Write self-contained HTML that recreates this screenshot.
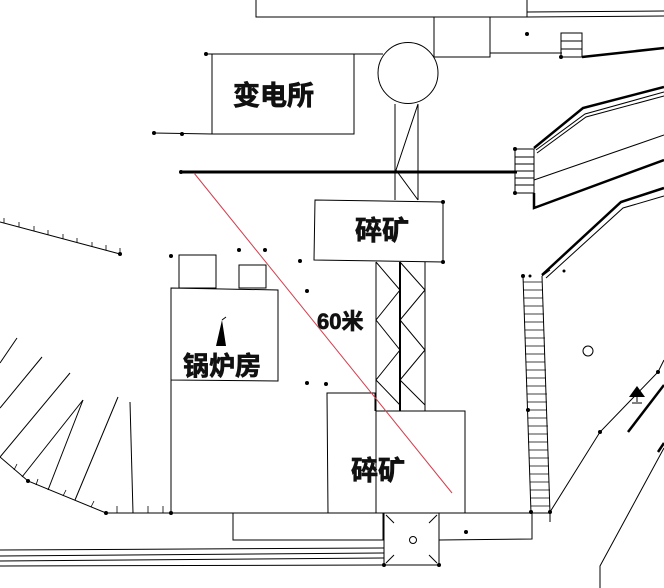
<!DOCTYPE html>
<html><head><meta charset="utf-8"><style>
html,body{margin:0;padding:0;background:#fff;}
svg{display:block}
text{font-family:"Liberation Sans","Noto Sans CJK SC",sans-serif;font-weight:bold;fill:#111;stroke:#111;stroke-width:0.7}
</style></head><body>
<svg width="664" height="588" viewBox="0 0 664 588" xmlns="http://www.w3.org/2000/svg">
<g stroke="#000" stroke-width="1" fill="none">
<polyline points="256,0 256,17 527,17 527,0"/>
<line x1="527" y1="12" x2="664" y2="11"/>
<line x1="527" y1="17" x2="664" y2="16"/>
<rect x="434" y="17" width="56" height="40"/>
<line x1="490" y1="53" x2="562" y2="53"/>
<rect x="561" y="33" width="21" height="24"/>
<line x1="561" y1="41" x2="582" y2="41"/><line x1="561" y1="49" x2="582" y2="49"/>
<polyline points="582,57 664,48" stroke-width="2.5"/>
<rect x="212" y="54" width="142" height="80"/>
<line x1="206" y1="54" x2="383" y2="54"/>
<line x1="154" y1="133" x2="212" y2="134"/>
<ellipse cx="408" cy="73" rx="30" ry="30.5"/>
<line x1="395" y1="104" x2="395" y2="200"/>
<line x1="418" y1="104" x2="418" y2="200"/>
<polyline points="418,104 396,170 418,200"/>
<line x1="181" y1="172" x2="517" y2="172" stroke-width="3"/>
<rect x="515" y="149" width="19" height="44"/>
<line x1="515" y1="157" x2="534" y2="157"/><line x1="515" y1="164" x2="534" y2="164"/><line x1="515" y1="171" x2="534" y2="171"/><line x1="515" y1="178" x2="534" y2="178"/><line x1="515" y1="185" x2="534" y2="185"/>
<polyline points="534,148 583,108 664,87" stroke-width="2.5"/>
<polyline points="536,150 585,114 664,92"/>
<polyline points="537,153 586,117 664,96"/>
<line x1="534" y1="180" x2="664" y2="135"/>
<polyline points="534,193 534,208 664,160" stroke-width="2.5"/>
<polyline points="542,275 621,202 664,188" stroke-width="2.5"/>
<polyline points="546,278 623,208 664,196"/>
<polygon points="315,200 443,202 443,262 314,260"/>
<line x1="376" y1="262" x2="376" y2="411"/>
<line x1="400" y1="262" x2="400" y2="411" stroke-width="2"/>
<line x1="425" y1="262" x2="425" y2="411"/>
<polyline points="376,262 400,290 376,320 400,350 376,380 400,405"/>
<polyline points="400,262 425,290 400,320 425,350 400,380 425,405"/>
<rect x="179" y="255" width="37" height="33"/>
<rect x="239" y="265" width="27" height="23"/>
<polygon points="171,288 278,290 278,381 171,380"/>
<line x1="171" y1="380" x2="171" y2="513"/>
<polyline points="328,513 327,393 375,393 375,411"/>
<polyline points="376,411 465,411 465,513"/>
<line x1="376" y1="411" x2="376" y2="513"/>
<line x1="105" y1="513" x2="550" y2="513"/>
<rect x="233" y="513" width="150" height="27"/>
<rect x="384" y="513" width="55" height="52"/>
<line x1="386" y1="515" x2="394" y2="523"/><line x1="437" y1="515" x2="429" y2="523"/>
<line x1="386" y1="563" x2="394" y2="555"/><line x1="437" y1="563" x2="429" y2="555"/>
<circle cx="413" cy="540" r="3.5"/>
<polyline points="439,540 532,539 532,513"/>
<line x1="0" y1="550" x2="384" y2="548"/>
<line x1="0" y1="556" x2="384" y2="553"/>
<line x1="0" y1="561" x2="384" y2="558"/>
<line x1="0" y1="566" x2="384" y2="565"/>
<polyline points="523,276 531,513"/>
<polyline points="542,276 550,513"/>
<g stroke-width="0.8">
<line x1="523" y1="282" x2="542" y2="282"/><line x1="523" y1="290" x2="543" y2="290"/><line x1="524" y1="298" x2="543" y2="298"/><line x1="524" y1="306" x2="543" y2="306"/><line x1="524" y1="314" x2="544" y2="314"/><line x1="524" y1="322" x2="544" y2="322"/><line x1="525" y1="330" x2="544" y2="330"/><line x1="525" y1="338" x2="545" y2="338"/><line x1="525" y1="346" x2="545" y2="346"/><line x1="525" y1="354" x2="545" y2="354"/><line x1="526" y1="362" x2="545" y2="362"/><line x1="526" y1="370" x2="546" y2="370"/><line x1="526" y1="378" x2="546" y2="378"/><line x1="526" y1="386" x2="546" y2="386"/><line x1="527" y1="394" x2="547" y2="394"/><line x1="527" y1="402" x2="547" y2="402"/><line x1="527" y1="410" x2="547" y2="410"/><line x1="528" y1="418" x2="547" y2="418"/><line x1="528" y1="426" x2="548" y2="426"/><line x1="528" y1="434" x2="548" y2="434"/><line x1="528" y1="442" x2="548" y2="442"/><line x1="529" y1="450" x2="548" y2="450"/><line x1="529" y1="458" x2="549" y2="458"/><line x1="529" y1="466" x2="549" y2="466"/><line x1="530" y1="474" x2="549" y2="474"/><line x1="530" y1="482" x2="549" y2="482"/><line x1="530" y1="490" x2="550" y2="490"/><line x1="530" y1="498" x2="550" y2="498"/><line x1="531" y1="506" x2="550" y2="506"/>
</g>
<polyline points="542,276 550,270"/>
<circle cx="588" cy="351" r="5"/>
<polyline points="550,512 600,432 658,372 664,360"/>
<line x1="550" y1="512" x2="550" y2="522"/>
<line x1="628" y1="432" x2="664" y2="385" stroke-width="2.5"/>
<line x1="658" y1="452" x2="664" y2="443" stroke-width="2.5"/>
<polyline points="600,588 600,566 664,448"/>
<line x1="637" y1="402" x2="637" y2="397"/>
<line x1="632" y1="403" x2="642" y2="403"/>
<line x1="0" y1="222" x2="120" y2="254"/>
<g stroke-width="0.8">
<line x1="4" y1="223" x2="4" y2="218"/><line x1="19" y1="227" x2="19" y2="222"/><line x1="34" y1="231" x2="34" y2="226"/><line x1="48" y1="235" x2="48" y2="230"/><line x1="63" y1="239" x2="63" y2="234"/><line x1="77" y1="243" x2="77" y2="238"/><line x1="92" y1="247" x2="92" y2="242"/><line x1="106" y1="250" x2="106" y2="245"/><line x1="120" y1="254" x2="120" y2="248"/>
</g>
<polyline points="0,457 28,481 106,513 171,513"/>
<line x1="17" y1="338" x2="0" y2="363"/>
<line x1="42" y1="357" x2="0" y2="408"/>
<line x1="70" y1="373" x2="0" y2="457"/>
<line x1="83" y1="400" x2="22" y2="477"/>
<line x1="83" y1="400" x2="48" y2="490"/>
<line x1="118" y1="397" x2="75" y2="500"/>
<line x1="130" y1="402" x2="133" y2="513"/>
<g stroke-width="0.8">
<line x1="14" y1="470" x2="17" y2="464"/><line x1="36" y1="485" x2="38" y2="479"/><line x1="63" y1="496" x2="66" y2="490"/><line x1="91" y1="507" x2="94" y2="501"/><line x1="117" y1="513" x2="117" y2="506"/><line x1="148" y1="513" x2="148" y2="506"/><line x1="163" y1="513" x2="163" y2="506"/>
</g>
<line x1="194" y1="173" x2="452" y2="493" stroke="#d04050" stroke-width="1"/>
</g>
<polygon points="216,346 226,346 222,320" fill="#000"/>
<line x1="222" y1="320" x2="226" y2="317" stroke="#000"/>
<polygon points="629,397 645,397 637,386" fill="#000"/>
<g fill="#000">
<circle cx="206" cy="54" r="2"/><circle cx="154" cy="133" r="2"/><circle cx="182" cy="134" r="2"/>
<circle cx="181" cy="172" r="2"/><circle cx="527" cy="34" r="2"/><circle cx="561" cy="57" r="2"/>
<circle cx="515" cy="149" r="2"/><circle cx="515" cy="193" r="2"/><circle cx="443" cy="202" r="2"/><circle cx="443" cy="262" r="2"/>
<circle cx="171" cy="256" r="2"/><circle cx="239" cy="250" r="2"/><circle cx="265" cy="250" r="2"/><circle cx="300" cy="261" r="2"/><circle cx="307" cy="291" r="2"/>
<circle cx="307" cy="383" r="2"/><circle cx="326" cy="384" r="2"/><circle cx="171" cy="513" r="2"/><circle cx="106" cy="513" r="2"/><circle cx="28" cy="481" r="2"/>
<circle cx="120" cy="254" r="2"/><circle cx="531" cy="512" r="2"/><circle cx="550" cy="512" r="2"/><circle cx="523" cy="276" r="2"/><circle cx="528" cy="410" r="2"/>
<circle cx="600" cy="432" r="2"/><circle cx="658" cy="372" r="2"/><circle cx="466" cy="532" r="2"/><circle cx="384" cy="565" r="2"/><circle cx="439" cy="565" r="2"/>
<circle cx="564" cy="271" r="1.5"/><circle cx="530" cy="276" r="1.5"/>
</g>
<text x="233" y="105" font-size="27">变电所</text>
<text x="355" y="240" font-size="27">碎矿</text>
<text x="317" y="329" font-size="22">60米</text>
<text x="183" y="375" font-size="26">锅炉房</text>
<text x="351" y="480" font-size="27">碎矿</text>
</svg>
</body></html>
